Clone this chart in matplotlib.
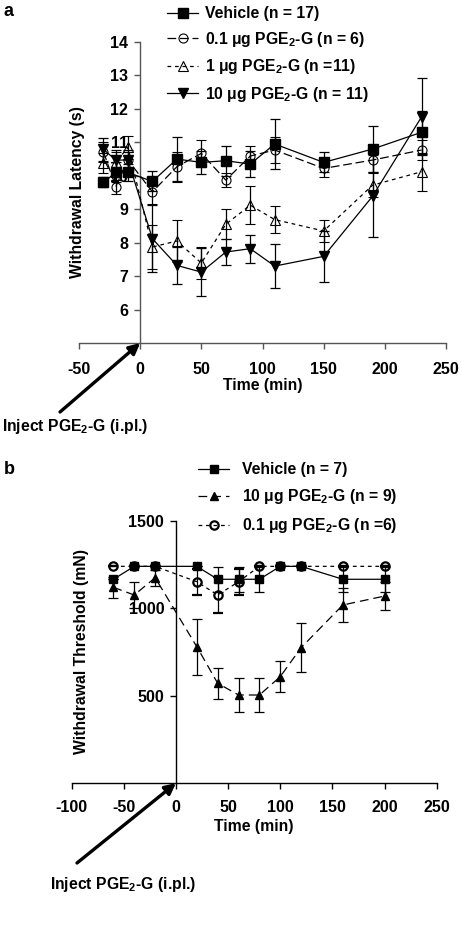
import matplotlib
matplotlib.use("Agg")
import matplotlib.pyplot as plt
from matplotlib.lines import Line2D

plt.rcParams['font.family'] = ['Liberation Sans', 'DejaVu Sans']
plt.rcParams['font.weight'] = 'bold'
plt.rcParams['mathtext.fontset'] = 'custom'
plt.rcParams['mathtext.rm'] = 'Liberation Sans:bold'
plt.rcParams['mathtext.bf'] = 'Liberation Sans:bold'
plt.rcParams['mathtext.it'] = 'Liberation Sans:bold'
plt.rcParams['mathtext.default'] = 'rm'

# ---------------- Panel a data ----------------
times_a = [-30, -20, -10, 10, 30, 50, 70, 90, 110, 150, 190, 230]
veh_a = [9.8, 10.1, 10.1, 9.83, 10.5, 10.4, 10.45, 10.35, 10.95, 10.4, 10.8, 11.3]
veh_a_err = [0.15, 0.3, 0.25, 0.3, 0.65, 0.35, 0.45, 0.4, 0.75, 0.3, 0.7, 0.65]
c01_a = [10.72, 9.67, 10.47, 9.52, 10.27, 10.67, 9.87, 10.59, 10.77, 10.22, 10.47, 10.77]
c01_a_err = [0.3, 0.2, 0.25, 0.35, 0.45, 0.4, 0.2, 0.3, 0.4, 0.25, 0.35, 0.3]
t1_a = [10.37, 10.4, 10.85, 7.87, 8.05, 7.39, 8.55, 9.12, 8.69, 8.35, 9.72, 10.12]
t1_a_err = [0.3, 0.3, 0.35, 0.65, 0.62, 0.48, 0.45, 0.57, 0.4, 0.33, 0.35, 0.57]
t10_a = [10.79, 10.47, 10.47, 8.12, 7.32, 7.12, 7.72, 7.82, 7.30, 7.59, 9.39, 11.76]
t10_a_err = [0.35, 0.3, 0.3, 1.0, 0.55, 0.72, 0.38, 0.42, 0.67, 0.77, 1.22, 1.15]
xticks_a = [-50, 0, 50, 100, 150, 200, 250]
yticks_a = [6, 7, 8, 9, 10, 11, 12, 13, 14]
labels_a = ["Vehicle (n = 17)", "0.1 μg PGE$_2$-G (n = 6)",
            "1 μg PGE$_2$-G (n =11)", "10 μg PGE$_2$-G (n = 11)"]

# ---------------- Panel b data ----------------
times_b = [-60, -40, -20, 20, 40, 60, 80, 100, 120, 160, 200]
veh_b = [1166, 1240, 1240, 1240, 1166, 1166, 1166, 1240, 1240, 1166, 1166]
veh_b_err = [0, 0, 0, 0, 72, 72, 72, 0, 0, 72, 70]
t10_b = [1120, 1076, 1175, 780, 571, 504, 504, 609, 775, 1019, 1070]
t10_b_err = [60, 76, 45, 160, 88, 97, 97, 88, 140, 95, 80]
c01_b = [1240, 1240, 1240, 1152, 1076, 1152, 1240, 1240, 1240, 1240, 1240]
c01_b_err = [0, 0, 0, 75, 105, 75, 0, 0, 0, 0, 0]
xticks_b = [-100, -50, 0, 50, 100, 150, 200, 250]
yticks_b = [500, 1000, 1500]
labels_b = ["Vehicle (n = 7)", "10 μg PGE$_2$-G (n = 9)", "0.1 μg PGE$_2$-G (n =6)"]

W, H = 462, 952
fig = plt.figure(figsize=(W / 100, H / 100), dpi=100)

FS = 11.3
TFS = 11.5
lw = 0.9

def style_axes(ax, xlim, ylim, xticks, yticks, color, xpad):
    ax.set_xlim(*xlim)
    ax.set_ylim(*ylim)
    ax.spines['top'].set_visible(False)
    ax.spines['right'].set_visible(False)
    ax.spines['left'].set_position(('data', 0))
    for s in ('left', 'bottom'):
        ax.spines[s].set_color(color)
        ax.spines[s].set_linewidth(1.0)
    ax.set_xticks(xticks)
    ax.set_yticks(yticks)
    ax.set_xticklabels([str(t) for t in xticks])
    ax.set_yticklabels([str(t) for t in yticks])
    ax.tick_params(direction='out', length=4.5, width=1.0, color=color,
                   labelsize=TFS)
    ax.tick_params(axis='x', pad=xpad)
    ax.tick_params(axis='y', pad=4)
    for lab in ax.get_xticklabels() + ax.get_yticklabels():
        lab.set_fontweight('bold')

# ---------------- Panel a ----------------
axa = fig.add_axes([79 / W, 1 - 343 / H, (446 - 79) / W, (343 - 42) / H])
eb = dict(capsize=3.5, elinewidth=lw, capthick=lw, ecolor='black')
axa.errorbar(times_a, veh_a, yerr=veh_a_err, color='black', ls='-', lw=lw,
             marker='s', ms=6.5, mfc='black', mec='black', **eb, zorder=4)
axa.errorbar(times_a, c01_a, yerr=c01_a_err, color='black', ls=(0, (7, 3)), lw=lw,
             marker='o', ms=6.5, mfc='none', mec='black', mew=0.8, **eb, zorder=3)
axa.errorbar(times_a, t1_a, yerr=t1_a_err, color='black', ls=(0, (3, 3)), lw=lw,
             marker='^', ms=7, mfc='none', mec='black', mew=0.8, **eb, zorder=3)
axa.errorbar(times_a, t10_a, yerr=t10_a_err, color='black', ls='-', lw=lw,
             marker='v', ms=7, mfc='black', mec='black', **eb, zorder=4)
style_axes(axa, (-50, 250), (5, 14), xticks_a, yticks_a, '#555555', 9)
axa.set_xlabel("Time (min)", fontsize=FS, fontweight='bold', labelpad=1)
axa.set_ylabel("Withdrawal Latency (s)", fontsize=FS, fontweight='bold')
axa.yaxis.set_label_coords(0.016, 0.5)

handles_a = [
    Line2D([], [], color='black', ls='-', lw=lw, marker='s', ms=6.5, mfc='black'),
    Line2D([], [], color='black', ls=(0, (7, 3)), lw=lw, marker='o', ms=6.5, mfc='none', mew=0.8),
    Line2D([], [], color='black', ls=(0, (3, 3)), lw=lw, marker='^', ms=7, mfc='none', mew=0.8),
    Line2D([], [], color='black', ls='-', lw=lw, marker='v', ms=7, mfc='black'),
]
fig.legend(handles_a, labels_a, loc='upper left', bbox_to_anchor=(167 / W, 1 - 6 / H),
           frameon=False, handlelength=2.0, handletextpad=0.45,
           labelspacing=0.55, borderpad=0, borderaxespad=0,
           prop={'weight': 'bold', 'size': FS})

fig.text(4 / W, 1 - 11 / H, "a", fontsize=13, fontweight='bold', va='center', ha='left')

# annotation a
axa.annotate('', xy=(0, 5), xycoords='data', xytext=(60, H - 412),
             textcoords='figure pixels',
             arrowprops=dict(arrowstyle='-|>', lw=2.4, color='black', mutation_scale=16,
                             shrinkA=0, shrinkB=0),
             annotation_clip=False)
fig.text(2 / W, 1 - 427 / H, "Inject PGE$_2$-G (i.pl.)", fontsize=FS, fontweight='bold',
         va='center', ha='left')

# ---------------- Panel b ----------------
axb = fig.add_axes([71.7 / W, 1 - 783.1 / H, (436.7 - 71.7) / W, (783.1 - 520.9) / H])
ebb = dict(capsize=3.5, elinewidth=lw, capthick=lw, ecolor='black')
axb.errorbar(times_b, veh_b, yerr=veh_b_err, color='black', ls='-', lw=lw,
             marker='s', ms=5.5, mfc='black', mec='black', **ebb, zorder=4)
axb.errorbar(times_b, t10_b, yerr=t10_b_err, color='black', ls=(0, (7, 4)), lw=lw,
             marker='^', ms=6, mfc='black', mec='black', **ebb, zorder=3)
axb.errorbar(times_b, c01_b, yerr=c01_b_err, color='black', ls=(0, (3, 3)), lw=lw,
             marker='o', ms=6, mfc='none', mec='black', mew=1.6, **ebb, zorder=5)
style_axes(axb, (-100, 250), (0, 1500), xticks_b, yticks_b, 'black', 7.5)
axb.set_xlabel("Time (min)", fontsize=FS, fontweight='bold', labelpad=3)
axb.set_ylabel("Withdrawal Threshold (mN)", fontsize=FS, fontweight='bold')
axb.yaxis.set_label_coords(0.047, 0.5)

handles_b = [
    Line2D([], [], color='black', ls='-', lw=lw, marker='s', ms=5.5, mfc='black'),
    Line2D([], [], color='black', ls=(0, (7, 4)), lw=lw, marker='^', ms=6, mfc='black'),
    Line2D([], [], color='black', ls=(0, (3, 3)), lw=lw, marker='o', ms=6, mfc='none', mew=1.6),
]
fig.legend(handles_b, labels_b, loc='upper left', bbox_to_anchor=(198 / W, 1 - 462 / H),
           frameon=False, handlelength=2.0, handletextpad=0.8,
           labelspacing=0.65, borderpad=0, borderaxespad=0,
           prop={'weight': 'bold', 'size': FS})

fig.text(4 / W, 1 - 470 / H, "b", fontsize=13, fontweight='bold', va='center', ha='left')

axb.annotate('', xy=(0, 0), xycoords='data', xytext=(77, H - 863),
             textcoords='figure pixels',
             arrowprops=dict(arrowstyle='-|>', lw=2.4, color='black', mutation_scale=16,
                             shrinkA=0, shrinkB=0),
             annotation_clip=False)
fig.text(50 / W, 1 - 885 / H, "Inject PGE$_2$-G (i.pl.)", fontsize=FS, fontweight='bold',
         va='center', ha='left')

fig.savefig("out.png", dpi=100, facecolor='white')
